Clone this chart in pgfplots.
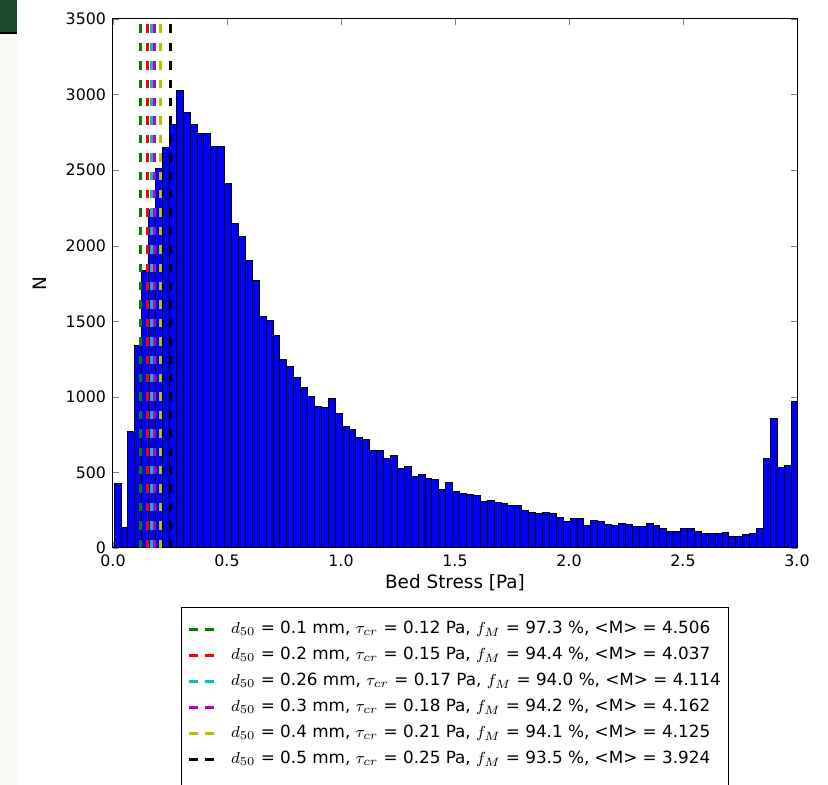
\documentclass[border=0pt]{standalone}
\usepackage{pgfplots}
\pgfplotsset{compat=1.18}
\usepackage{fontspec}
\setmainfont{DejaVu Sans}
\definecolor{mplgreen}{rgb}{0,0.5,0}
\definecolor{mplcyan}{rgb}{0,0.75,0.75}
\definecolor{mplmag}{rgb}{0.75,0,0.75}
\definecolor{mplyel}{rgb}{0.75,0.75,0}
\definecolor{blockgreen}{HTML}{1B4A2C}
\definecolor{stripcol}{HTML}{F8F9F2}
\begin{document}
\begin{tikzpicture}
\begin{axis}[
  name=ax,
  scale only axis, width=342pt, height=264.5pt,
  xmin=0, xmax=3, ymin=0, ymax=3500,
  xtick={0,0.5,...,3}, ytick={0,500,...,3500},
  xticklabel style={/pgf/number format/.cd, fixed, fixed zerofill, precision=1},
  /pgf/number format/1000 sep={},
  /pgf/number format/assume math mode=true,
  tick label style={font=\fontsize{7.9}{9}\selectfont},
  tick align=inside, major tick length=3pt,
  axis line style={line width=0.5pt},
  xlabel={Bed Stress [Pa]}, ylabel={N},
  every axis x label/.style={at={(axis description cs:0.5,0)}, yshift=-17.5pt, anchor=center, font=\fontsize{9.2}{11}\selectfont},
  every axis y label/.style={at={(axis description cs:0,0.5)}, xshift=-36.5pt, rotate=90, anchor=center, font=\fontsize{9.2}{11}\selectfont},
  legend cell align=left,
  legend image code/.code={\draw[#1, dash pattern=on 4.5pt off 3.5pt] (0pt,0pt) -- (12.5pt,0pt);},
  legend style={at={(axis description cs:0.5,0)}, yshift=-29.5pt, anchor=north,
    font=\fontsize{8.4}{10}\selectfont, draw=black, line width=0.5pt,
    inner xsep=3pt, inner ysep=6pt,
    nodes={inner sep=1pt, text height=6pt, text depth=2pt}, row sep=3pt,
    /tikz/every odd column/.append style={column sep=7pt}},
]
\addplot[ybar interval, fill=blue, draw=black, line width=0.5pt, forget plot] coordinates {
(0.0050,430) (0.0353,135) (0.0656,768) (0.0959,1340) (0.1262,1835)
(0.1565,2240) (0.1868,2510) (0.2171,2652) (0.2474,2800) (0.2777,3024)
(0.3080,2884) (0.3383,2800) (0.3686,2742) (0.3989,2742) (0.4292,2655)
(0.4595,2655) (0.4898,2410) (0.5201,2146) (0.5504,2058) (0.5807,1903)
(0.6110,1773) (0.6413,1530) (0.6716,1503) (0.7019,1406) (0.7322,1244)
(0.7625,1200) (0.7928,1129) (0.8231,1063) (0.8534,1001) (0.8837,935)
(0.9140,928) (0.9443,990) (0.9746,889) (1.0049,807) (1.0352,785)
(1.0655,732) (1.0958,719) (1.1261,648) (1.1564,644) (1.1867,593)
(1.2170,609) (1.2473,527) (1.2776,538) (1.3079,472) (1.3382,487)
(1.3685,461) (1.3988,450) (1.4291,384) (1.4594,432) (1.4897,373)
(1.5200,358) (1.5503,357) (1.5806,345) (1.6109,306) (1.6412,314)
(1.6715,304) (1.7018,293) (1.7321,279) (1.7624,279) (1.7927,251)
(1.8230,235) (1.8533,228) (1.8836,238) (1.9139,228) (1.9442,199)
(1.9745,175) (2.0048,196) (2.0351,196) (2.0654,147) (2.0957,185)
(2.1260,175) (2.1563,155) (2.1866,147) (2.2169,163) (2.2472,158)
(2.2775,139) (2.3078,139) (2.3381,159) (2.3684,147) (2.3987,130)
(2.4290,108) (2.4593,112) (2.4896,126) (2.5199,126) (2.5502,108)
(2.5805,93) (2.6108,93) (2.6411,93) (2.6714,101) (2.7017,79)
(2.7320,79) (2.7623,90) (2.7926,97) (2.8229,126) (2.8532,589)
(2.8835,858) (2.9138,531) (2.9441,549) (2.9744,968) (3.0047,968)
};
\addplot[mplgreen, line width=1.5pt, dash pattern=on 4.2pt off 5pt] coordinates {(0.12,0) (0.12,3500)};
\addlegendentry{$d_{50}$ = 0.1 mm, $\tau_{cr}$ = 0.12 Pa, $f_M$ = 97.3 \%, <M> = 4.506}
\addplot[red, line width=1.5pt, dash pattern=on 4.2pt off 5pt] coordinates {(0.15,0) (0.15,3500)};
\addlegendentry{$d_{50}$ = 0.2 mm, $\tau_{cr}$ = 0.15 Pa, $f_M$ = 94.4 \%, <M> = 4.037}
\addplot[mplcyan, line width=1.5pt, dash pattern=on 4.2pt off 5pt] coordinates {(0.17,0) (0.17,3500)};
\addlegendentry{$d_{50}$ = 0.26 mm, $\tau_{cr}$ = 0.17 Pa, $f_M$ = 94.0 \%, <M> = 4.114}
\addplot[mplmag, line width=1.5pt, dash pattern=on 4.2pt off 5pt] coordinates {(0.18,0) (0.18,3500)};
\addlegendentry{$d_{50}$ = 0.3 mm, $\tau_{cr}$ = 0.18 Pa, $f_M$ = 94.2 \%, <M> = 4.162}
\addplot[mplyel, line width=1.5pt, dash pattern=on 4.2pt off 5pt] coordinates {(0.21,0) (0.21,3500)};
\addlegendentry{$d_{50}$ = 0.4 mm, $\tau_{cr}$ = 0.21 Pa, $f_M$ = 94.1 \%, <M> = 4.125}
\addplot[black, line width=1.5pt, dash pattern=on 4.2pt off 5pt] coordinates {(0.25,0) (0.25,3500)};
\addlegendentry{$d_{50}$ = 0.5 mm, $\tau_{cr}$ = 0.25 Pa, $f_M$ = 93.5 \%, <M> = 3.924}
\addlegendimage{empty legend}
\addlegendentry{\strut}
\end{axis}
\fill[stripcol] ([shift={(-56.5pt,-118.5pt)}]ax.south west) rectangle ([shift={(-48pt,9.5pt)}]ax.north west);
\fill[blockgreen] ([shift={(-56.5pt,9.5pt)}]ax.north west) rectangle ([shift={(-48pt,-6.5pt)}]ax.north west);
\fill[black] ([shift={(-56.5pt,-6.5pt)}]ax.north west) rectangle ([shift={(-48pt,-7.4pt)}]ax.north west);
\pgfresetboundingbox
\path[use as bounding box] ([shift={(-56.5pt,-118.5pt)}]ax.south west) rectangle ([shift={(15.5pt,9.5pt)}]ax.north east);
\end{tikzpicture}
\end{document}
